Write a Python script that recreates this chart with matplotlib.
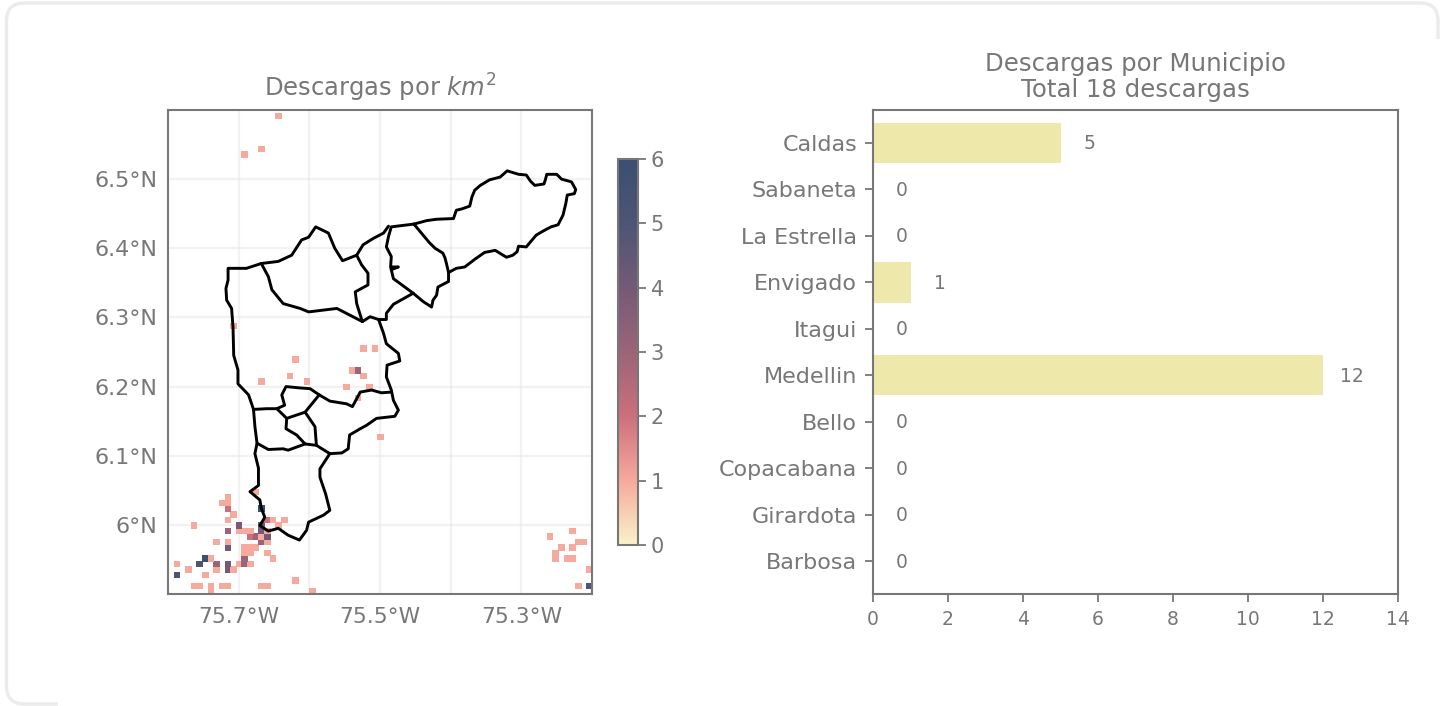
import matplotlib
matplotlib.use("Agg")
import numpy as np
import matplotlib.pyplot as plt
from matplotlib.colors import LinearSegmentedColormap
from matplotlib.patches import FancyBboxPatch, Rectangle
from matplotlib.ticker import FixedLocator, FuncFormatter
from matplotlib.transforms import IdentityTransform

W, H = 1447, 706
GRAY = "#777777"

# --- data -------------------------------------------------------------
municipios = ["Caldas", "Sabaneta", "La Estrella", "Envigado", "Itagui",
              "Medellin", "Bello", "Copacabana", "Girardota", "Barbosa"]
descargas = [5, 0, 0, 1, 0, 12, 0, 0, 0, 0]

grid_cols = 75
grid_rows = 87
cell_col = [34,36,22,32,33,21,34,16,24,31,35,33,37,15,10,9,10,10,16,11,10,17,18,20,4,12,16,19,
            10,12,13,14,16,17,14,15,16,17,8,10,16,17,10,13,14,15,13,14,17,6,7,13,18,
            1,5,8,10,12,13,14,3,8,10,11,1,6,22,4,5,9,10,7,16,17,7,25,
            67,71,72,73,69,71,68,68,70,71,74,72,74,19,16,13,11]
cell_row = [44,44,42,40,40,39,39,38,38,37,37,35,28,18,17,16,16,15,15,14,13,13,13,13,12,12,12,12,
            11,11,11,11,11,11,10,10,10,10,9,9,9,9,8,8,8,8,7,7,7,6,6,6,6,
            5,5,5,5,5,5,5,4,4,4,4,3,3,2,1,1,1,1,1,1,1,0,0,
            10,11,9,9,8,8,7,6,6,6,4,1,1,86,80,79,48]
cell_val = [1,1,1,1,3,1,1,1,1,1,1,1,1,1,1,1,1,2,6,1,1,2,1,1,1,4,4,1,
            3,1,1,1,4,1,2,3,1,4,1,1,3,1,4,1,1,1,1,1,1,6,1,3,1,
            1,5,3,4,1,3,1,1,1,4,1,5,1,1,1,1,1,1,1,1,1,1,1,
            1,1,1,1,1,1,1,1,1,1,1,1,5,1,1,1,1]

boundaries = [
    ([-75.452,-75.434,-75.420,-75.396,-75.392,-75.384,-75.373,-75.370,-75.366,-75.358,-75.345,-75.330,-75.320,-75.304,-75.293,-75.287,-75.281,-75.268,-75.266,-75.264,-75.250,-75.243,-75.229,-75.223,-75.225,-75.235,-75.237,-75.241,-75.248,-75.258,-75.269,-75.279,-75.293,-75.304,-75.306,-75.312,-75.321,-75.337,-75.352,-75.366,-75.380,-75.392,-75.403],
     [6.435,6.440,6.442,6.443,6.455,6.457,6.461,6.474,6.484,6.491,6.499,6.503,6.512,6.507,6.506,6.497,6.491,6.493,6.499,6.507,6.507,6.500,6.496,6.485,6.479,6.477,6.465,6.448,6.434,6.431,6.425,6.419,6.402,6.403,6.395,6.390,6.387,6.397,6.394,6.384,6.373,6.371,6.365]),
    ([-75.452,-75.439,-75.430,-75.422,-75.411,-75.408,-75.406,-75.403,-75.403,-75.418,-75.420,-75.425,-75.427,-75.439,-75.453,-75.469,-75.481,-75.485,-75.484,-75.491,-75.488,-75.484,-75.452],
     [6.435,6.419,6.408,6.400,6.393,6.386,6.378,6.365,6.352,6.344,6.332,6.325,6.315,6.323,6.335,6.347,6.356,6.373,6.388,6.402,6.417,6.431,6.435]),
    ([-75.484,-75.474,-75.484], [6.373,6.373,6.369]),
    ([-75.488,-75.495,-75.510,-75.524,-75.533,-75.526,-75.517,-75.517,-75.535,-75.533,-75.525],
     [6.432,6.422,6.414,6.405,6.390,6.376,6.364,6.347,6.337,6.320,6.294]),
    ([-75.453,-75.481,-75.491,-75.491,-75.502,-75.514,-75.525],
     [6.335,6.319,6.306,6.297,6.297,6.301,6.294]),
    ([-75.668,-75.658,-75.653,-75.637,-75.613,-75.601,-75.561,-75.525],
     [6.378,6.359,6.340,6.320,6.313,6.308,6.313,6.294]),
    ([-75.668,-75.644,-75.625,-75.611,-75.601,-75.591,-75.573,-75.564,-75.553,-75.533],
     [6.378,6.381,6.390,6.412,6.416,6.431,6.422,6.400,6.382,6.390]),
    ([-75.668,-75.689,-75.715,-75.715,-75.718,-75.717,-75.710,-75.708,-75.707,-75.701,-75.701,-75.686,-75.679],
     [6.378,6.371,6.371,6.354,6.342,6.325,6.313,6.286,6.245,6.224,6.204,6.188,6.167]),
    ([-75.502,-75.495,-75.491,-75.474,-75.472,-75.490,-75.491,-75.484,-75.481,-75.474,-75.479,-75.505,-75.519,-75.528,-75.543,-75.545,-75.554,-75.571],
     [6.297,6.277,6.262,6.248,6.237,6.231,6.214,6.195,6.180,6.166,6.157,6.154,6.144,6.139,6.130,6.110,6.104,6.103]),
    ([-75.679,-75.660,-75.646,-75.635,-75.639,-75.633,-75.613,-75.599,-75.586,-75.571,-75.547,-75.539,-75.528,-75.512,-75.498,-75.484],
     [6.167,6.168,6.168,6.173,6.188,6.200,6.198,6.197,6.188,6.179,6.175,6.171,6.192,6.195,6.191,6.192]),
    ([-75.646,-75.632,-75.606,-75.586], [6.168,6.154,6.163,6.188]),
    ([-75.632,-75.633,-75.618,-75.606], [6.154,6.139,6.130,6.117]),
    ([-75.606,-75.592,-75.590], [6.163,6.142,6.115]),
    ([-75.679,-75.677,-75.674,-75.658,-75.637,-75.630,-75.606,-75.590,-75.571],
     [6.167,6.142,6.118,6.109,6.110,6.108,6.117,6.115,6.103]),
    ([-75.674,-75.677,-75.672,-75.672,-75.684,-75.670,-75.668,-75.663,-75.670,-75.658,-75.644,-75.630,-75.614,-75.604,-75.601,-75.580,-75.571,-75.577,-75.585,-75.585,-75.571],
     [6.118,6.103,6.082,6.057,6.048,6.036,6.024,6.011,5.999,5.991,5.995,5.985,5.978,5.992,6.004,6.014,6.021,6.045,6.069,6.081,6.103]),
]

lon_ticks = [-75.7, -75.5, -75.3]
lat_ticks = [6.0, 6.1, 6.2, 6.3, 6.4, 6.5]
lon_grid = [-75.7, -75.6, -75.5, -75.4, -75.3]
bar_ticks = [0, 2, 4, 6, 8, 10, 12, 14]
cbar_ticks = [0, 1, 2, 3, 4, 5, 6]

# --- helpers ----------------------------------------------------------
def px_axes(fig, l, t, r, b):
    return fig.add_axes([l / W, 1 - b / H, (r - l) / W, (b - t) / H])

plt.rcParams["font.family"] = "DejaVu Sans"
fig = plt.figure(figsize=(W / 100, H / 100), dpi=100, facecolor="white")

# card outline: only the top edge, a stub on the right and the lower-left corner show
fig.add_artist(FancyBboxPatch((6.5, H - 704), 1431.5, 701, boxstyle="round,pad=0,rounding_size=18",
                              transform=IdentityTransform(), fc="white", ec="#ebebeb", lw=2.4, zorder=-5))
fig.add_artist(Rectangle((58, 0), W, 30, transform=IdentityTransform(), fc="white", ec="none", zorder=-4))
fig.add_artist(Rectangle((1400, 0), 60, H - 39, transform=IdentityTransform(), fc="white", ec="none", zorder=-4))

cmap = LinearSegmentedColormap.from_list(
    "descargas", [(0, "#f8f2c8"), (1 / 6, "#f6a99c"), (2 / 6, "#cc6f7c"),
                  (3 / 6, "#9c6478"), (4 / 6, "#745a76"), (5 / 6, "#4e5574"), (1, "#3b4f72")])

# --- map --------------------------------------------------------------
ax = px_axes(fig, 168, 110, 592, 594)
xe = np.linspace(-75.8, -75.2, grid_cols + 1)
ye = 5.9 + 0.008 * np.arange(grid_rows + 1)
Z = np.full((grid_rows, grid_cols), np.nan)
Z[cell_row, cell_col] = cell_val
mesh = ax.pcolormesh(xe, ye, Z, cmap=cmap, vmin=0, vmax=6, zorder=2, edgecolors="face", linewidth=0.5)
for lons, lats in boundaries:
    ax.plot(lons, lats, color="black", lw=2.1, zorder=3, solid_joinstyle="round", solid_capstyle="round")
ax.set_xlim(-75.8, -75.2)
ax.set_ylim(5.9, 6.6)
ax.xaxis.set_major_locator(FixedLocator(lon_ticks))
ax.xaxis.set_minor_locator(FixedLocator(lon_grid))
ax.yaxis.set_major_locator(FixedLocator(lat_ticks))
ax.xaxis.set_major_formatter(FuncFormatter(lambda v, p: f"{abs(v):.1f}°W"))
ax.yaxis.set_major_formatter(FuncFormatter(lambda v, p: "6°N" if abs(v - 6) < 1e-6 else f"{v:.1f}°N"))
ax.grid(True, which="both", color="#e6e6e6", lw=1.6, alpha=0.5, zorder=1)
ax.tick_params(axis="y", which="both", length=0, labelsize=16, labelcolor=GRAY, pad=7.5)
ax.tick_params(axis="x", which="both", length=0, labelsize=15.7, labelcolor=GRAY, pad=9.5)
ax.set_title("Descargas por $km^2$", fontsize=17.5, color=GRAY, pad=9.5)

# --- colorbar ---------------------------------------------------------
cax = px_axes(fig, 618, 159, 638, 545)
cb = fig.colorbar(plt.cm.ScalarMappable(norm=mesh.norm, cmap=cmap), cax=cax)
cb.set_ticks(cbar_ticks)
cb.ax.tick_params(length=5.5, width=1.3, color=GRAY, labelcolor=GRAY, labelsize=15, pad=3.7)
cb.outline.set_edgecolor(GRAY)
cb.outline.set_linewidth(1.5)

# --- bars -------------------------------------------------------------
bx = px_axes(fig, 873, 110, 1398, 594)
ypos = np.arange(len(municipios))
bx.barh(ypos, descargas, height=0.87, color="#eee8aa")
for y, v in zip(ypos, descargas):
    bx.annotate(str(v), (v, y), xytext=(29, -1), textcoords="offset pixels",
                va="center", ha="center", color=GRAY, fontsize=13.5)
bx.set_yticks(ypos, municipios)
bx.set_xticks(bar_ticks)
bx.set_xlim(0, 14)
bx.set_ylim(9.71, -0.71)
bx.tick_params(axis="y", length=5.5, width=1.3, color=GRAY, labelcolor=GRAY, labelsize=16, pad=6)
bx.tick_params(axis="x", length=5.5, width=1.3, color=GRAY, labelcolor=GRAY, labelsize=13.5, pad=6.2)
bx.set_title("Descargas por Municipio\nTotal 18 descargas", fontsize=17.6, color=GRAY, pad=9.5, linespacing=1.1)

for a in (ax, bx):
    for s in a.spines.values():
        s.set_color(GRAY)
        s.set_linewidth(1.5)

fig.savefig("out.png", dpi=100)
